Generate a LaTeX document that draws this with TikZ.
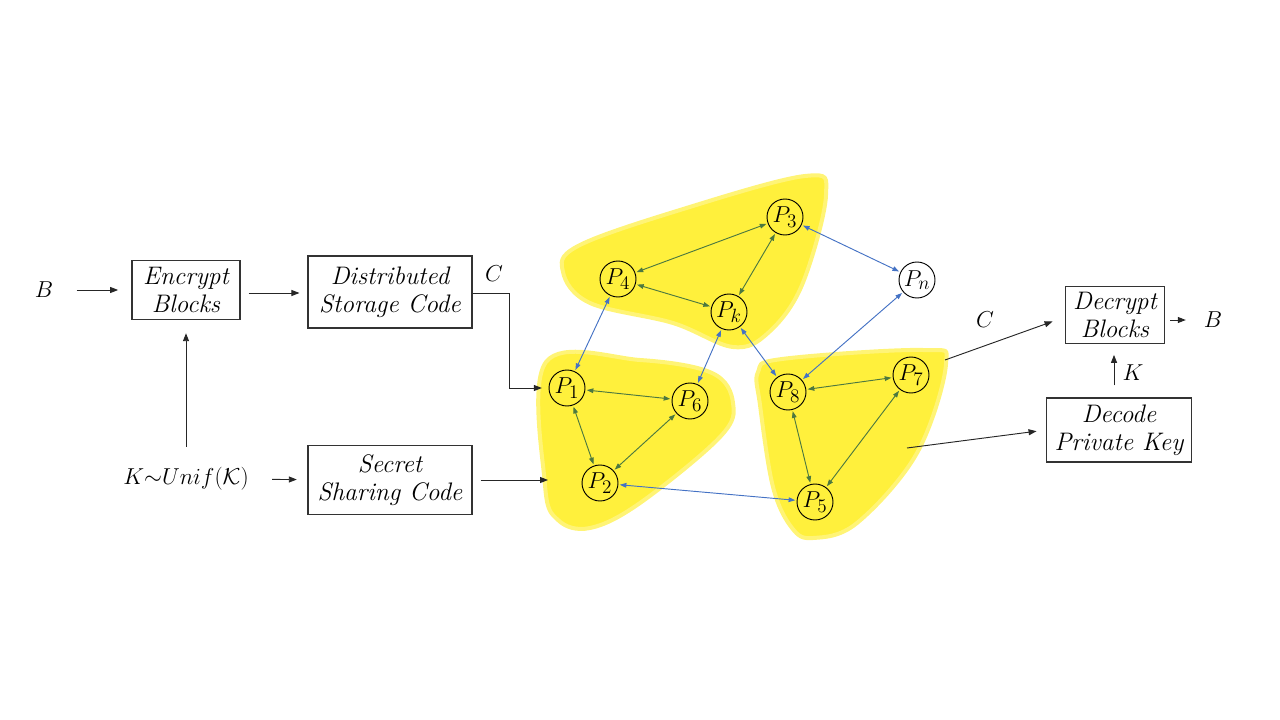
\documentclass[tikz,border=0pt]{standalone}
\usepackage{amsmath,amssymb}
\usepackage{tikz}
\usetikzlibrary{arrows.meta}

\definecolor{hlyellow}{RGB}{255,240,60}
\definecolor{lgreen}{RGB}{76,120,64}
\definecolor{lblue}{RGB}{68,114,196}

\tikzset{
  box/.style={draw=black!80,line width=0.8pt,align=center,inner sep=2pt,font=\fontsize{19}{21}\selectfont\itshape},
  lbl/.style={font=\fontsize{19}{21}\selectfont},
  peer/.style={draw=black,circle,minimum size=27pt,inner sep=0pt,line width=0.7pt,font=\fontsize{19}{20}\selectfont},
  flow/.style={-{Triangle[length=6pt,width=4.5pt]},line width=0.7pt,black!85},
  link/.style={{Triangle[length=5pt,width=3.5pt]}-{Triangle[length=5pt,width=3.5pt]},line width=0.7pt,shorten <=1pt,shorten >=1pt},
  blob/.style={fill=hlyellow,draw=hlyellow!70,line width=3pt,line join=round}
}

\begin{document}
\begin{tikzpicture}[x=0.75pt,y=0.75pt,yscale=-1,xscale=1]
\path (0,0) rectangle (1280,720);

%Yellow regions
\filldraw[blob] plot[smooth cycle,tension=0.6] coordinates {(563,272) (578,246) (680,210) (805,176) (826,195) (802,285) (768,333) (733,347) (673,323) (590,303)};
\filldraw[blob] plot[smooth cycle,tension=0.6] coordinates {(546,362) (640,360) (712,373) (733,403) (720,437) (640,503) (590,528) (558,520) (545,485)};
\filldraw[blob] plot[smooth cycle,tension=0.6] coordinates {(758,372) (782,359) (923,350) (946,364) (917,453) (857,523) (813,538) (792,528) (773,487) (760,405)};

% Text Node
\node[lbl] (bin) at (44,290) {$B$};
\node[box,minimum width=81pt,minimum height=44pt] (enc) at (186,290) {Encrypt\\Blocks};
\node[box,minimum width=123pt,minimum height=54pt] (dsc) at (390,292) {Distributed\\Storage Code};
\node[lbl] (clbl) at (494,274) {$C$};
\node[lbl] (key) at (186,479) {$K{\sim}Unif(\mathcal{K})$};
\node[box,minimum width=123pt,minimum height=52pt] (ssc) at (390,480) {Secret\\Sharing Code};

% Peers
\node[peer] (p3) at (785,217) {$P_3$};
\node[peer] (p4) at (618,279) {$P_4$};
\node[peer] (pk) at (729,312) {$P_k$};
\node[peer,fill=white] (pn) at (917,280) {$P_n$};
\node[peer] (p1) at (567,388) {$P_1$};
\node[peer] (p6) at (690,401) {$P_6$};
\node[peer] (p8) at (788,392) {$P_8$};
\node[peer] (p7) at (911,375) {$P_7$};
\node[peer] (p2) at (600,483) {$P_2$};
\node[peer] (p5) at (815,502) {$P_5$};

% Right side
\node[box,minimum width=74pt,minimum height=43pt] (dec) at (1115,315) {Decrypt\\Blocks};
\node[lbl] (bout) at (1213,320) {$B$};
\node[box,minimum width=109pt,minimum height=48pt] (dpk) at (1119,430) {Decode\\Private Key};
\node[lbl] (c2) at (985,320) {$C$};
\node[lbl] (k2) at (1133,373) {$K$};

\coordinate (sin) at (548,480);
\coordinate (cout) at (945,360);
\coordinate (kout) at (907,448);

%Straight Lines
\draw[flow,shorten <=14pt,shorten >=10pt] (bin) -- (enc);
\draw[flow,shorten <=6pt,shorten >=6pt] (enc.east |- 0,293) -- (dsc.west |- 0,293);
\draw[flow,shorten <=12pt,shorten >=10pt] (key.north -| enc) -- (enc.south);
\draw[flow,shorten <=14pt,shorten >=8pt] (key) -- (ssc);
\draw[flow,shorten >=5pt] (dsc.east |- 0,293) -- (509,293) |- (p1.west);
\draw[flow,shorten <=6pt] (ssc.east) -- (sin);
\draw[flow,shorten >=10pt] (cout) -- (dec.west |- 0,317);
\draw[flow,shorten >=7pt] (kout) -- (dpk.west |- 0,430);
\draw[flow,shorten <=4pt,shorten >=10pt] (dec.east |- 0,320) -- (bout);
\draw[flow,shorten <=9pt,shorten >=8pt] (dpk.north -| 1114,0) -- (dec.south -| 1114,0);

%Peer links
\foreach \a/\b in {p3/p4,p3/pk,p4/pk,p1/p6,p1/p2,p2/p6,p8/p7,p8/p5,p7/p5}
  \draw[link,lgreen] (\a) -- (\b);
\foreach \a/\b in {p3/pn,pn/p8,p4/p1,pk/p6,pk/p8,p2/p5}
  \draw[link,lblue] (\a) -- (\b);

\end{tikzpicture}
\end{document}
